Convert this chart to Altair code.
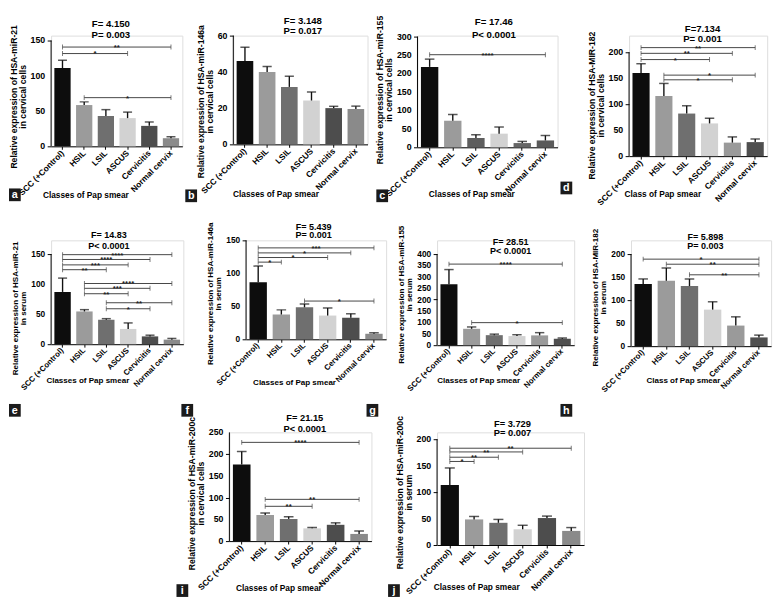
import altair as alt
import pandas as pd

FONT = "Liberation Sans"
CATS = ["SCC (+Control)", "HSIL", "LSIL", "ASCUS", "Cervicitis", "Normal cervix"]
XT_CLASSES = "Classes of Pap smear"
XT_CLASS = "Class of Pap smear"

SHADE_A = ["#0d0d0d", "#9b9b9b", "#6f6f6f", "#d2d2d2", "#4d4d4d", "#8a8a8a"]
SHADE_B = ["#0d0d0d", "#9b9b9b", "#6f6f6f", "#d2d2d2", "#9a9a9a", "#4f4f4f"]
SHADE_C = ["#0d0d0d", "#9b9b9b", "#5e5e5e", "#d2d2d2", "#666666", "#5a5a5a"]

# (a) miR-21 cervical cells
A_MEAN = [111, 58.5, 43, 40, 29, 11.5]
A_SEM = [11, 4.5, 9, 8.5, 5.5, 2]
A_BR = [(0, 5, 140.7, "**"), (0, 3, 131.5, "*"), (1, 5, 69, "*")]
A_YT = ["Relative expression of HSA-miR-21", "in cervical cells"]
A_ST = ["F= 4.150", "P= 0.003"]
# (b) miR-146a cervical cells
B_MEAN = [46, 40, 31.7, 24.2, 20, 19.5]
B_SEM = [7.6, 3, 5.9, 4.7, 1, 1.6]
B_BR = []
B_YT = ["Relative expression of HSA-miR-146a", "in cervical cells"]
B_ST = ["F= 3.148", "P= 0.017"]
# (c) miR-155 cervical cells
C_MEAN = [218, 72, 25, 37, 11.5, 18.6]
C_SEM = [21, 17, 9, 18, 4.5, 13.4]
C_BR = [(0, 5, 251, "****")]
C_YT = ["Relative expression of HSA-miR-155", "in cervical cells"]
C_ST = ["F= 17.46", "P< 0.0001"]
# (d) miR-182 cervical cells
D_MEAN = [160, 116, 82, 63, 26, 27]
D_SEM = [18, 24, 15, 10, 11, 6]
D_BR = [(0, 5, 209, "**"), (0, 4, 198, "**"), (0, 3, 186, "*"), (1, 5, 156, "*"), (1, 4, 147, "*")]
D_YT = ["Relative expression of HSA-MIR-182", "in cervical cells"]
D_ST = ["F=7.134", "P= 0.001"]
# (e) miR-21 serum
E_MEAN = [87, 54.5, 40.5, 25.4, 13, 7.6]
E_SEM = [23, 3, 2, 10, 2, 2]
E_BR = [(0, 5, 149, "****"), (0, 4, 141, "****"), (0, 3, 132, "***"), (0, 2, 124, "**"),
        (1, 5, 101, "****"), (1, 4, 93, "***"), (1, 3, 84, "**"), (2, 5, 69, "**"), (2, 4, 59, "*")]
E_YT = ["Relative expression of HSA-miR-21", "in serum"]
E_ST = ["F= 14.83", "P< 0.0001"]
# (f) miR-146a serum
F_MEAN = [86.6, 37.6, 48.5, 36, 32.7, 8.4]
F_SEM = [24.4, 7, 5, 11.5, 6, 1.5]
F_BR = [(0, 5, 138.6, "***"), (0, 4, 131, "*"), (0, 3, 124, "*"), (0, 1, 117, "*"), (2, 5, 58, "*")]
F_YT = ["Relative expression of HSA-miR-146a", "In serum"]
F_ST = ["F= 5.439", "P= 0.001"]
# (g) miR-155 serum
G_MEAN = [268, 72, 44, 40, 43, 28.6]
G_SEM = [64, 8, 4.5, 6, 12, 3]
G_BR = [(0, 5, 356, "****"), (1, 5, 99, "*")]
G_YT = ["Relative expression of HSA-miR-155", "in serum"]
G_ST = ["F= 28.51", "P< 0.0001"]
# (h) miR-182 serum
H_MEAN = [135, 142, 130.5, 79.4, 44.7, 19]
H_SEM = [11, 28, 15.5, 17, 19, 5]
H_BR = [(0, 5, 189, "*"), (1, 5, 178, "**"), (2, 5, 155, "**")]
H_YT = ["Relative expression of HSA-MIR-182", "in serum"]
H_ST = ["F= 5.898", "P= 0.003"]
# (i) miR-200c cervical cells
I_MEAN = [176, 60, 51, 29.3, 37.5, 16.5]
I_SEM = [30, 4.6, 5, 2.2, 4.5, 6.8]
I_BR = [(0, 5, 227, "****"), (1, 5, 96, "**"), (1, 3, 80, "**")]
I_YT = ["Relative expression of HSA-miR-200c", "in cervical cells"]
I_ST = ["F= 21.15", "P< 0.0001"]
# (j) miR-200c serum
J_MEAN = [113.7, 48.4, 42, 29.8, 51, 26.7]
J_SEM = [32, 5.6, 6.4, 7.5, 3.7, 6.3]
J_BR = [(0, 5, 183, "**"), (0, 3, 176, "**"), (0, 2, 166, "**"), (0, 1, 158, "*")]
J_YT = ["Relative expression of HSA-miR-200c", "in serum"]
J_ST = ["F= 3.729", "P= 0.007"]

PI, PO = 0.25, 0.15


def letter_layers(letters):
    out = []
    for ch, x0, y0 in letters:
        d = pd.DataFrame({"t": [ch]})
        out.append(alt.Chart(d).mark_rect(color="#1b1b1b").encode(
            x=alt.value(x0), x2=alt.value(x0 + 12), y=alt.value(y0), y2=alt.value(y0 + 13)))
        out.append(alt.Chart(d).mark_text(color="white", font=FONT, fontWeight="bold", fontSize=11,
                                          align="center", baseline="middle").encode(
            x=alt.value(x0 + 6), y=alt.value(y0 + 7), text="t:N"))
    return out


def box_layer(L, R, T, bottom, W):
    d = pd.DataFrame({"z": [0]})
    return alt.Chart(d).mark_rect(opacity=0).encode(
        x=alt.value(-L), x2=alt.value(W + R), y=alt.value(-T), y2=alt.value(bottom))


def panel(mean, sem, brackets, ytitle, stats, shades, xtitle, lay):
    W, H = lay["w"], lay["h"]
    step = W / (len(CATS) - PI + 2 * PO)
    barw = step * (1 - PI)
    xs = alt.Scale(domain=CATS, paddingInner=PI, paddingOuter=PO)
    ys = alt.Scale(domain=[0, lay["dmax"]], nice=False, zero=False)
    df = pd.DataFrame({"cat": CATS, "mean": mean,
                       "top": [m + s for m, s in zip(mean, sem)], "shade": shades})
    fs = lay["fs"]
    tick_vals = list(range(0, lay["ax"] + 1, lay["st"]))
    lab_w = max(len(str(v)) for v in tick_vals) * 0.556 * fs["yl"]
    xaxis = alt.Axis(title=xtitle, labelAngle=-45, labelAlign="right", labelBaseline="middle",
                     labelFont=FONT, labelFontSize=fs["xl"], labelFontWeight="bold", labelColor="black",
                     labelPadding=2, labelOverlap=False, tickSize=3, tickColor="black", domainColor="black",
                     domainWidth=1, grid=False, titleX=lay["xt"][0], titleY=lay["xt"][1],
                     titleBaseline="alphabetic", titleFont=FONT, titleFontSize=fs["xt"],
                     titleFontWeight="bold", titleColor="black")
    yaxis = alt.Axis(title=ytitle, values=tick_vals, domain=False, labels=False,
                     grid=False, tickSize=4, tickColor="black", tickWidth=1,
                     titleFont=FONT, titleFontSize=fs["yt"], titleFontWeight="bold",
                     titleColor="black", titlePadding=lab_w + 5, titleY=lay["yty"],
                     titleLineHeight=fs["yt"] * 1.05)
    bars = alt.Chart(df).mark_bar().encode(
        x=alt.X("cat:N", scale=xs, axis=xaxis),
        y=alt.Y("mean:Q", scale=ys, axis=yaxis),
        color=alt.Color("shade:N", scale=None))
    err = alt.Chart(df).mark_rule(color="#111111", strokeWidth=1.4).encode(
        x=alt.X("cat:N", scale=xs), y=alt.Y("mean:Q", scale=ys), y2="top:Q")
    cap = alt.Chart(df).mark_tick(color="#111111", thickness=1.5, size=barw * 0.55,
                                  orient="horizontal").encode(
        x=alt.X("cat:N", scale=xs), y=alt.Y("top:Q", scale=ys))
    axl = alt.Chart(pd.DataFrame({"y0": [0], "y1": [lay["ax"]]})).mark_rule(
        color="black", strokeWidth=1).encode(
        x=alt.value(0), y=alt.Y("y0:Q", scale=ys), y2="y1:Q")
    tdf = pd.DataFrame({"v": tick_vals, "lab": [str(v) for v in tick_vals]})
    ylabels = alt.Chart(tdf).mark_text(
        font=FONT, fontWeight="bold", fontSize=fs["yl"], color="black",
        align="right", baseline="middle", dx=-6).encode(
        x=alt.value(0), y=alt.Y("v:Q", scale=ys), text="lab:N")
    layers = [box_layer(lay["L"], lay["R"], lay["T"], lay["bot"], W), bars, err, cap, axl, ylabels]
    if brackets:
        bdf = pd.DataFrame({
            "f": [CATS[b[0]] for b in brackets],
            "t": [CATS[b[1]] for b in brackets],
            "y": [b[2] for b in brackets],
            "lab": [b[3] for b in brackets],
            "m": [CATS[(b[0] + b[1]) // 2] for b in brackets],
            "half": [(b[0] + b[1]) % 2 == 1 for b in brackets],
        })
        layers.append(alt.Chart(bdf).mark_rule(color="#444444", strokeWidth=1).encode(
            x=alt.X("f:N", scale=xs), x2="t:N", y=alt.Y("y:Q", scale=ys)))
        for fld in ["f", "t"]:
            layers.append(alt.Chart(bdf).mark_tick(color="#444444", thickness=1, size=5,
                                                   orient="vertical").encode(
                x=alt.X(f"{fld}:N", scale=xs), y=alt.Y("y:Q", scale=ys)))
        for half, dx in [(False, 0), (True, step / 2)]:
            sub = bdf[bdf["half"] == half]
            if len(sub):
                layers.append(alt.Chart(sub).mark_text(
                    font=FONT, fontWeight="bold", fontSize=8, color="#222222",
                    baseline="alphabetic", align="center", dx=dx, dy=3).encode(
                    x=alt.X("m:N", scale=xs), y=alt.Y("y:Q", scale=ys), text="lab:N"))
    cx, b1, b2 = lay["title"]
    for txt, by in [(stats[0], b1), (stats[1], b2)]:
        layers.append(alt.Chart(pd.DataFrame({"t": [txt]})).mark_text(
            font=FONT, fontWeight="bold", fontSize=fs["t"], color="black",
            align="center", baseline="alphabetic").encode(
            x=alt.value(cx), y=alt.value(by), text="t:N"))
    layers += letter_layers(lay.get("letters", []))
    return alt.layer(*layers).properties(width=W, height=H)


FS1 = {"xl": 8.5, "xt": 8.5, "yl": 9, "yt": 8.8, "t": 9.8}
FS2 = {"xl": 8, "xt": 8.2, "yl": 8.5, "yt": 8.2, "t": 9.2}
FS3 = {"xl": 8.5, "xt": 8.5, "yl": 9, "yt": 8.8, "t": 9.5}

LAY = {
    "a": dict(w=134, h=113, L=43, R=1, T=21, bot=180, dmax=156.9, ax=150, st=50, fs=FS1,
              xt=(35, 52), yty=62, title=(61, -9, 2), letters=[("a", -43, 156)]),
    "b": dict(w=137, h=111, L=49, R=4, T=21, bot=180, dmax=60, ax=60, st=20, fs=FS1,
              xt=(43, 53), yty=67, title=(71, -12, -2), letters=[("b", -49, 157)]),
    "c": dict(w=143, h=114, L=45, R=1, T=21, bot=180, dmax=302.7, ax=300, st=50, fs=FS1,
              xt=(55, 50), yty=55, title=(78, -11, 2), letters=[("c", -42, 157)]),
    "d": dict(w=141, h=123, L=70, R=5, T=21, bot=180, dmax=232.1, ax=200, st=50, fs=FS1,
              xt=(34, 41), yty=71, title=(75, -4, 7), letters=[("d", -70, 149)]),
    "e": dict(w=135, h=106, L=42, R=17, T=27, bot=164, dmax=172.8, ax=150, st=50, fs=FS2,
              xt=(37, 39), yty=69, title=(59, -2, 9)),
    "f": dict(w=143, h=101, L=45, R=5, T=27, bot=164, dmax=150, ax=150, st=50, fs=FS2,
              xt=(49, 46), yty=54, title=(69, -11, -2)),
    "g": dict(w=140, h=107, L=45, R=9, T=27, bot=164, dmax=460.2, ax=400, st=50, fs=FS2,
              xt=(42, 38), yty=55, title=(75, 5, 14)),
    "h": dict(w=143, h=108, L=47, R=4, T=27, bot=164, dmax=229.8, ax=200, st=50, fs=FS2,
              xt=(53, 37), yty=58, title=(76, 0, 9)),
    "i": dict(w=145, h=111, L=56, R=8, T=30, bot=168, dmax=250, ax=250, st=50, fs=FS3,
              xt=(50, 50), yty=62, title=(77, -12, 0),
              letters=[("f", -49, -29), ("g", 140, -29), ("i", -54, 155)]),
    "j": dict(w=150, h=115, L=57, R=10, T=30, bot=168, dmax=213, ax=200, st=50, fs=FS3,
              xt=(40, 45), yty=61, title=(77, -5, 4),
              letters=[("h", 126, -29), ("j", -50, 155)]),
}

pa = panel(A_MEAN, A_SEM, A_BR, A_YT, A_ST, SHADE_A, XT_CLASSES, LAY["a"])
pb = panel(B_MEAN, B_SEM, B_BR, B_YT, B_ST, SHADE_A, XT_CLASSES, LAY["b"])
pc = panel(C_MEAN, C_SEM, C_BR, C_YT, C_ST, SHADE_C, XT_CLASSES, LAY["c"])
pd_ = panel(D_MEAN, D_SEM, D_BR, D_YT, D_ST, SHADE_B, XT_CLASS, LAY["d"])
pe = panel(E_MEAN, E_SEM, E_BR, E_YT, E_ST, SHADE_A, XT_CLASSES, LAY["e"])
pf = panel(F_MEAN, F_SEM, F_BR, F_YT, F_ST, SHADE_A, XT_CLASSES, LAY["f"])
pg = panel(G_MEAN, G_SEM, G_BR, G_YT, G_ST, SHADE_B, XT_CLASSES, LAY["g"])
ph = panel(H_MEAN, H_SEM, H_BR, H_YT, H_ST, SHADE_B, XT_CLASS, LAY["h"])
pi = panel(I_MEAN, I_SEM, I_BR, I_YT, I_ST, SHADE_A, XT_CLASSES, LAY["i"])
pj = panel(J_MEAN, J_SEM, J_BR, J_YT, J_ST, SHADE_A, XT_CLASSES, LAY["j"])

# spacer: origin aligned with the first column of the other rows (43 px in)
spacer = alt.layer(box_layer(43, 0, 30, 168, 125),
                   *letter_layers([("e", -43, -29)])).properties(
    width=125, height=1,
    view=alt.ViewBackground(stroke="transparent", strokeWidth=0, fill="transparent"))

row1 = alt.hconcat(pa, pb, pc, pd_, spacing=0).resolve_scale(x="independent", y="independent")
row2 = alt.hconcat(pe, pf, pg, ph, spacing=0).resolve_scale(x="independent", y="independent")
row3 = alt.hconcat(spacer, pi, pj, spacing=0).resolve_scale(x="independent", y="independent")

chart = alt.vconcat(row1, row2, row3, spacing=0).resolve_scale(
    x="independent", y="independent").properties(padding=0).configure_view(
    stroke="transparent", strokeWidth=0).configure(background="white")

chart.save("out.html", embed_options={"renderer": "svg", "actions": False})
